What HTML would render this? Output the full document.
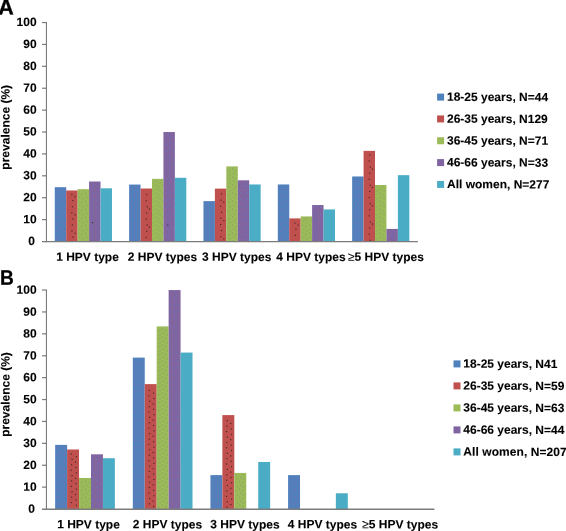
<!DOCTYPE html>
<html><head><meta charset="utf-8"><title>HPV type prevalence</title>
<style>
html,body{margin:0;padding:0;background:#fff;}
body{width:566px;height:531px;overflow:hidden;font-family:"Liberation Sans",sans-serif;}
svg{display:block;}
text{fill:#000;stroke:#000;stroke-width:0.1px;}
</style></head><body>
<svg width="566" height="531" viewBox="0 0 566 531" style="will-change:transform">
<defs>
<pattern id="pB" width="7" height="7" patternUnits="userSpaceOnUse"><g fill="#a05c9c" fill-opacity="0.5"><rect x="0.7" y="0.3" width="1.1" height="1.1"/><rect x="4.2" y="1.6" width="1.1" height="1.1"/><rect x="2.1" y="3.4" width="1.1" height="1.1"/><rect x="5.6" y="4.4" width="1.1" height="1.1"/><rect x="0.9" y="5.8" width="1.1" height="1.1"/><rect x="3.6" y="6.2" width="1.1" height="1.1"/></g></pattern>
<pattern id="pG" width="7" height="8" patternUnits="userSpaceOnUse"><g fill="#7d8577" fill-opacity="0.65"><rect x="1.0" y="0.6" width="1.1" height="1.1"/><rect x="4.4" y="2.2" width="1.1" height="1.1"/><rect x="2.2" y="4.6" width="1.1" height="1.1"/><rect x="5.5" y="6.3" width="1.1" height="1.1"/></g></pattern>
<pattern id="pP" width="7" height="7" patternUnits="userSpaceOnUse"><g fill-opacity="0.55"><rect x="0.6" y="0.5" width="1.1" height="1.1" fill="#5b88c4"/><rect x="3.8" y="1.2" width="1.1" height="1.1" fill="#95706a"/><rect x="1.9" y="3.0" width="1.1" height="1.1" fill="#5b88c4"/><rect x="5.2" y="3.9" width="1.1" height="1.1" fill="#5b88c4"/><rect x="3.0" y="5.6" width="1.1" height="1.1" fill="#95706a"/></g></pattern>
</defs>
<rect x="0" y="0" width="566" height="531" fill="#ffffff"/>
<text transform="translate(-1.65,14.50) skewY(0.25)" font-size="21.5" style="stroke-width:0.35px" font-family="Liberation Sans, sans-serif" font-weight="bold">A</text>
<text transform="translate(0.00,284.80) skewY(0.25) scale(0.91,1)" font-size="21" style="stroke-width:0.25px" font-family="Liberation Sans, sans-serif" font-weight="bold">B</text>
<rect x="54.78" y="187.20" width="11.44" height="54.30" fill="#4f81bd"/>
<rect x="55.58" y="188.40" width="9.84" height="52.70" fill="url(#pB)"/>
<rect x="66.21" y="190.48" width="11.44" height="51.02" fill="#c0504d"/>
<rect x="71.34" y="193.93" width="1.1" height="1.1" fill="#1e1e1e" fill-opacity="0.85"/>
<rect x="74.59" y="196.08" width="1.1" height="1.1" fill="#1e1e1e" fill-opacity="0.85"/>
<rect x="72.34" y="200.03" width="1.1" height="1.1" fill="#1e1e1e" fill-opacity="0.85"/>
<rect x="71.84" y="206.13" width="1.1" height="1.1" fill="#1e1e1e" fill-opacity="0.85"/>
<rect x="71.34" y="212.23" width="1.1" height="1.1" fill="#1e1e1e" fill-opacity="0.85"/>
<rect x="74.59" y="214.38" width="1.1" height="1.1" fill="#1e1e1e" fill-opacity="0.85"/>
<rect x="72.34" y="218.33" width="1.1" height="1.1" fill="#1e1e1e" fill-opacity="0.85"/>
<rect x="71.84" y="224.43" width="1.1" height="1.1" fill="#1e1e1e" fill-opacity="0.85"/>
<rect x="71.34" y="230.53" width="1.1" height="1.1" fill="#1e1e1e" fill-opacity="0.85"/>
<rect x="74.59" y="232.68" width="1.1" height="1.1" fill="#1e1e1e" fill-opacity="0.85"/>
<rect x="72.34" y="236.63" width="1.1" height="1.1" fill="#1e1e1e" fill-opacity="0.85"/>
<rect x="77.65" y="189.17" width="11.44" height="52.33" fill="#9bbb59"/>
<rect x="78.45" y="190.37" width="9.84" height="50.73" fill="url(#pG)"/>
<rect x="89.09" y="181.51" width="11.44" height="59.99" fill="#8064a2"/>
<rect x="89.89" y="182.71" width="9.84" height="58.39" fill="url(#pP)"/>
<rect x="100.53" y="188.30" width="11.44" height="53.20" fill="#4bacc6"/>
<rect x="129.12" y="184.57" width="11.44" height="56.93" fill="#4f81bd"/>
<rect x="129.92" y="185.77" width="9.84" height="55.33" fill="url(#pB)"/>
<rect x="140.55" y="188.51" width="11.44" height="52.99" fill="#c0504d"/>
<rect x="146.18" y="194.06" width="1.1" height="1.1" fill="#1e1e1e" fill-opacity="0.85"/>
<rect x="145.68" y="200.16" width="1.1" height="1.1" fill="#1e1e1e" fill-opacity="0.85"/>
<rect x="146.68" y="206.26" width="1.1" height="1.1" fill="#1e1e1e" fill-opacity="0.85"/>
<rect x="148.93" y="208.41" width="1.1" height="1.1" fill="#1e1e1e" fill-opacity="0.85"/>
<rect x="146.18" y="212.36" width="1.1" height="1.1" fill="#1e1e1e" fill-opacity="0.85"/>
<rect x="145.68" y="218.46" width="1.1" height="1.1" fill="#1e1e1e" fill-opacity="0.85"/>
<rect x="146.68" y="224.56" width="1.1" height="1.1" fill="#1e1e1e" fill-opacity="0.85"/>
<rect x="148.93" y="226.71" width="1.1" height="1.1" fill="#1e1e1e" fill-opacity="0.85"/>
<rect x="146.18" y="230.66" width="1.1" height="1.1" fill="#1e1e1e" fill-opacity="0.85"/>
<rect x="145.68" y="236.76" width="1.1" height="1.1" fill="#1e1e1e" fill-opacity="0.85"/>
<rect x="151.99" y="178.88" width="11.44" height="62.62" fill="#9bbb59"/>
<rect x="152.79" y="180.08" width="9.84" height="61.02" fill="url(#pG)"/>
<rect x="163.43" y="132.03" width="11.44" height="109.47" fill="#8064a2"/>
<rect x="164.23" y="133.22" width="9.84" height="107.88" fill="url(#pP)"/>
<rect x="174.87" y="177.79" width="11.44" height="63.71" fill="#4bacc6"/>
<rect x="203.46" y="201.10" width="11.44" height="40.40" fill="#4f81bd"/>
<rect x="204.26" y="202.30" width="9.84" height="38.80" fill="url(#pB)"/>
<rect x="214.89" y="188.62" width="11.44" height="52.88" fill="#c0504d"/>
<rect x="221.02" y="193.47" width="1.1" height="1.1" fill="#1e1e1e" fill-opacity="0.85"/>
<rect x="220.52" y="199.57" width="1.1" height="1.1" fill="#1e1e1e" fill-opacity="0.85"/>
<rect x="223.27" y="201.72" width="1.1" height="1.1" fill="#1e1e1e" fill-opacity="0.85"/>
<rect x="220.02" y="205.67" width="1.1" height="1.1" fill="#1e1e1e" fill-opacity="0.85"/>
<rect x="221.02" y="211.77" width="1.1" height="1.1" fill="#1e1e1e" fill-opacity="0.85"/>
<rect x="220.52" y="217.87" width="1.1" height="1.1" fill="#1e1e1e" fill-opacity="0.85"/>
<rect x="223.27" y="220.02" width="1.1" height="1.1" fill="#1e1e1e" fill-opacity="0.85"/>
<rect x="220.02" y="223.97" width="1.1" height="1.1" fill="#1e1e1e" fill-opacity="0.85"/>
<rect x="221.02" y="230.07" width="1.1" height="1.1" fill="#1e1e1e" fill-opacity="0.85"/>
<rect x="220.52" y="236.17" width="1.1" height="1.1" fill="#1e1e1e" fill-opacity="0.85"/>
<rect x="223.27" y="238.32" width="1.1" height="1.1" fill="#1e1e1e" fill-opacity="0.85"/>
<rect x="226.33" y="166.40" width="11.44" height="75.10" fill="#9bbb59"/>
<rect x="227.13" y="167.60" width="9.84" height="73.50" fill="url(#pG)"/>
<rect x="237.77" y="180.30" width="11.44" height="61.20" fill="#8064a2"/>
<rect x="238.57" y="181.50" width="9.84" height="59.60" fill="url(#pP)"/>
<rect x="249.21" y="184.46" width="11.44" height="57.04" fill="#4bacc6"/>
<rect x="277.80" y="184.46" width="11.44" height="57.04" fill="#4f81bd"/>
<rect x="278.60" y="185.66" width="9.84" height="55.44" fill="url(#pB)"/>
<rect x="289.23" y="218.40" width="11.44" height="23.10" fill="#c0504d"/>
<rect x="294.36" y="222.55" width="1.1" height="1.1" fill="#1e1e1e" fill-opacity="0.85"/>
<rect x="297.61" y="224.70" width="1.1" height="1.1" fill="#1e1e1e" fill-opacity="0.85"/>
<rect x="295.36" y="228.65" width="1.1" height="1.1" fill="#1e1e1e" fill-opacity="0.85"/>
<rect x="294.86" y="234.75" width="1.1" height="1.1" fill="#1e1e1e" fill-opacity="0.85"/>
<rect x="300.67" y="216.43" width="11.44" height="25.07" fill="#9bbb59"/>
<rect x="301.47" y="217.63" width="9.84" height="23.47" fill="url(#pG)"/>
<rect x="312.11" y="205.04" width="11.44" height="36.46" fill="#8064a2"/>
<rect x="312.91" y="206.24" width="9.84" height="34.86" fill="url(#pP)"/>
<rect x="323.55" y="209.42" width="11.44" height="32.08" fill="#4bacc6"/>
<rect x="352.14" y="176.47" width="11.44" height="65.03" fill="#4f81bd"/>
<rect x="352.94" y="177.67" width="9.84" height="63.43" fill="url(#pB)"/>
<rect x="363.57" y="150.85" width="11.44" height="90.65" fill="#c0504d"/>
<rect x="369.20" y="154.30" width="1.1" height="1.1" fill="#1e1e1e" fill-opacity="0.85"/>
<rect x="368.70" y="160.40" width="1.1" height="1.1" fill="#1e1e1e" fill-opacity="0.85"/>
<rect x="369.70" y="166.50" width="1.1" height="1.1" fill="#1e1e1e" fill-opacity="0.85"/>
<rect x="371.95" y="168.65" width="1.1" height="1.1" fill="#1e1e1e" fill-opacity="0.85"/>
<rect x="369.20" y="172.60" width="1.1" height="1.1" fill="#1e1e1e" fill-opacity="0.85"/>
<rect x="368.70" y="178.70" width="1.1" height="1.1" fill="#1e1e1e" fill-opacity="0.85"/>
<rect x="369.70" y="184.80" width="1.1" height="1.1" fill="#1e1e1e" fill-opacity="0.85"/>
<rect x="371.95" y="186.95" width="1.1" height="1.1" fill="#1e1e1e" fill-opacity="0.85"/>
<rect x="369.20" y="190.90" width="1.1" height="1.1" fill="#1e1e1e" fill-opacity="0.85"/>
<rect x="368.70" y="197.00" width="1.1" height="1.1" fill="#1e1e1e" fill-opacity="0.85"/>
<rect x="369.70" y="203.10" width="1.1" height="1.1" fill="#1e1e1e" fill-opacity="0.85"/>
<rect x="371.95" y="205.25" width="1.1" height="1.1" fill="#1e1e1e" fill-opacity="0.85"/>
<rect x="369.20" y="209.20" width="1.1" height="1.1" fill="#1e1e1e" fill-opacity="0.85"/>
<rect x="368.70" y="215.30" width="1.1" height="1.1" fill="#1e1e1e" fill-opacity="0.85"/>
<rect x="369.70" y="221.40" width="1.1" height="1.1" fill="#1e1e1e" fill-opacity="0.85"/>
<rect x="371.95" y="223.55" width="1.1" height="1.1" fill="#1e1e1e" fill-opacity="0.85"/>
<rect x="369.20" y="227.50" width="1.1" height="1.1" fill="#1e1e1e" fill-opacity="0.85"/>
<rect x="368.70" y="233.60" width="1.1" height="1.1" fill="#1e1e1e" fill-opacity="0.85"/>
<rect x="369.70" y="239.70" width="1.1" height="1.1" fill="#1e1e1e" fill-opacity="0.85"/>
<rect x="375.01" y="185.01" width="11.44" height="56.49" fill="#9bbb59"/>
<rect x="375.81" y="186.21" width="9.84" height="54.89" fill="url(#pG)"/>
<rect x="386.45" y="228.91" width="11.44" height="12.59" fill="#8064a2"/>
<rect x="387.25" y="230.11" width="9.84" height="10.99" fill="url(#pP)"/>
<rect x="397.89" y="175.16" width="11.44" height="66.34" fill="#4bacc6"/>
<line x1="46.45" y1="21.95" x2="46.45" y2="242.3" stroke="#7c7c7c" stroke-width="1.15"/>
<line x1="42.0" y1="241.65" x2="417.9" y2="241.65" stroke="#7c7c7c" stroke-width="1.4"/>
<text transform="translate(35.00,245.10) skewY(0.25)" font-size="12" text-anchor="end" font-family="Liberation Sans, sans-serif" font-weight="bold">0</text>
<line x1="42.0" y1="219.60" x2="46.2" y2="219.60" stroke="#7c7c7c" stroke-width="1.2"/>
<text transform="translate(36.60,223.20) skewY(0.25)" font-size="12" text-anchor="end" font-family="Liberation Sans, sans-serif" font-weight="bold">10</text>
<line x1="42.0" y1="197.71" x2="46.2" y2="197.71" stroke="#7c7c7c" stroke-width="1.2"/>
<text transform="translate(36.60,201.31) skewY(0.25)" font-size="12" text-anchor="end" font-family="Liberation Sans, sans-serif" font-weight="bold">20</text>
<line x1="42.0" y1="175.81" x2="46.2" y2="175.81" stroke="#7c7c7c" stroke-width="1.2"/>
<text transform="translate(36.60,179.41) skewY(0.25)" font-size="12" text-anchor="end" font-family="Liberation Sans, sans-serif" font-weight="bold">30</text>
<line x1="42.0" y1="153.92" x2="46.2" y2="153.92" stroke="#7c7c7c" stroke-width="1.2"/>
<text transform="translate(36.60,157.52) skewY(0.25)" font-size="12" text-anchor="end" font-family="Liberation Sans, sans-serif" font-weight="bold">40</text>
<line x1="42.0" y1="132.03" x2="46.2" y2="132.03" stroke="#7c7c7c" stroke-width="1.2"/>
<text transform="translate(36.60,135.62) skewY(0.25)" font-size="12" text-anchor="end" font-family="Liberation Sans, sans-serif" font-weight="bold">50</text>
<line x1="42.0" y1="110.13" x2="46.2" y2="110.13" stroke="#7c7c7c" stroke-width="1.2"/>
<text transform="translate(36.60,113.73) skewY(0.25)" font-size="12" text-anchor="end" font-family="Liberation Sans, sans-serif" font-weight="bold">60</text>
<line x1="42.0" y1="88.24" x2="46.2" y2="88.24" stroke="#7c7c7c" stroke-width="1.2"/>
<text transform="translate(36.60,91.84) skewY(0.25)" font-size="12" text-anchor="end" font-family="Liberation Sans, sans-serif" font-weight="bold">70</text>
<line x1="42.0" y1="66.34" x2="46.2" y2="66.34" stroke="#7c7c7c" stroke-width="1.2"/>
<text transform="translate(36.60,69.94) skewY(0.25)" font-size="12" text-anchor="end" font-family="Liberation Sans, sans-serif" font-weight="bold">80</text>
<line x1="42.0" y1="44.44" x2="46.2" y2="44.44" stroke="#7c7c7c" stroke-width="1.2"/>
<text transform="translate(36.60,48.04) skewY(0.25)" font-size="12" text-anchor="end" font-family="Liberation Sans, sans-serif" font-weight="bold">90</text>
<line x1="42.0" y1="22.55" x2="46.2" y2="22.55" stroke="#7c7c7c" stroke-width="1.2"/>
<text transform="translate(36.60,26.15) skewY(0.25)" font-size="12" text-anchor="end" font-family="Liberation Sans, sans-serif" font-weight="bold">100</text>
<text transform="translate(9.5,127.3) rotate(-90) skewY(0.25)" font-size="12" text-anchor="middle" font-family="Liberation Sans, sans-serif" font-weight="bold">prevalence (%)</text>
<text transform="translate(87.50,260.95) skewY(0.25)" font-size="12" text-anchor="middle" font-family="Liberation Sans, sans-serif" font-weight="bold">1 HPV type</text>
<text transform="translate(162.50,260.95) skewY(0.25)" font-size="12" text-anchor="middle" font-family="Liberation Sans, sans-serif" font-weight="bold">2 HPV types</text>
<text transform="translate(236.70,260.95) skewY(0.25)" font-size="12" text-anchor="middle" font-family="Liberation Sans, sans-serif" font-weight="bold">3 HPV types</text>
<text transform="translate(310.90,260.95) skewY(0.25)" font-size="12" text-anchor="middle" font-family="Liberation Sans, sans-serif" font-weight="bold">4 HPV types</text>
<text transform="translate(385.90,260.95) skewY(0.25)" font-size="12" text-anchor="middle" font-family="Liberation Sans, sans-serif" font-weight="bold"><tspan font-weight="normal">&#8805;</tspan>5 HPV types</text>
<rect x="437.1" y="93.60" width="7" height="7" fill="#4f81bd"/>
<text transform="translate(447.00,100.80) skewY(0.25)" font-size="12" font-family="Liberation Sans, sans-serif" font-weight="bold">18-25 years, N=44</text>
<rect x="437.1" y="115.43" width="7" height="7" fill="#c0504d"/>
<text transform="translate(447.00,122.63) skewY(0.25)" font-size="12" font-family="Liberation Sans, sans-serif" font-weight="bold">26-35 years, N129</text>
<rect x="437.1" y="137.26" width="7" height="7" fill="#9bbb59"/>
<text transform="translate(447.00,144.46) skewY(0.25)" font-size="12" font-family="Liberation Sans, sans-serif" font-weight="bold">36-45 years, N=71</text>
<rect x="437.1" y="159.09" width="7" height="7" fill="#8064a2"/>
<text transform="translate(447.00,166.29) skewY(0.25)" font-size="12" font-family="Liberation Sans, sans-serif" font-weight="bold">46-66 years, N=33</text>
<rect x="437.1" y="180.92" width="7" height="7" fill="#4bacc6"/>
<text transform="translate(447.00,188.12) skewY(0.25)" font-size="12" font-family="Liberation Sans, sans-serif" font-weight="bold">All women, N=277</text>
<rect x="55.16" y="444.88" width="11.94" height="64.17" fill="#4f81bd"/>
<rect x="55.96" y="446.08" width="10.34" height="62.57" fill="url(#pB)"/>
<rect x="67.10" y="449.48" width="11.94" height="59.57" fill="#c0504d"/>
<rect x="70.69" y="453.43" width="1.1" height="1.1" fill="#1e1e1e" fill-opacity="0.85"/>
<rect x="75.79" y="456.13" width="1.1" height="1.1" fill="#1e1e1e" fill-opacity="0.85"/>
<rect x="71.49" y="458.83" width="1.1" height="1.1" fill="#1e1e1e" fill-opacity="0.85"/>
<rect x="74.99" y="461.53" width="1.1" height="1.1" fill="#1e1e1e" fill-opacity="0.85"/>
<rect x="71.09" y="464.23" width="1.1" height="1.1" fill="#1e1e1e" fill-opacity="0.85"/>
<rect x="75.39" y="466.93" width="1.1" height="1.1" fill="#1e1e1e" fill-opacity="0.85"/>
<rect x="70.69" y="469.63" width="1.1" height="1.1" fill="#1e1e1e" fill-opacity="0.85"/>
<rect x="75.79" y="472.33" width="1.1" height="1.1" fill="#1e1e1e" fill-opacity="0.85"/>
<rect x="71.49" y="475.03" width="1.1" height="1.1" fill="#1e1e1e" fill-opacity="0.85"/>
<rect x="74.99" y="477.73" width="1.1" height="1.1" fill="#1e1e1e" fill-opacity="0.85"/>
<rect x="71.09" y="480.43" width="1.1" height="1.1" fill="#1e1e1e" fill-opacity="0.85"/>
<rect x="75.39" y="483.13" width="1.1" height="1.1" fill="#1e1e1e" fill-opacity="0.85"/>
<rect x="70.69" y="485.83" width="1.1" height="1.1" fill="#1e1e1e" fill-opacity="0.85"/>
<rect x="75.79" y="488.53" width="1.1" height="1.1" fill="#1e1e1e" fill-opacity="0.85"/>
<rect x="71.49" y="491.23" width="1.1" height="1.1" fill="#1e1e1e" fill-opacity="0.85"/>
<rect x="74.99" y="493.93" width="1.1" height="1.1" fill="#1e1e1e" fill-opacity="0.85"/>
<rect x="71.09" y="496.63" width="1.1" height="1.1" fill="#1e1e1e" fill-opacity="0.85"/>
<rect x="75.39" y="499.33" width="1.1" height="1.1" fill="#1e1e1e" fill-opacity="0.85"/>
<rect x="70.69" y="502.03" width="1.1" height="1.1" fill="#1e1e1e" fill-opacity="0.85"/>
<rect x="75.79" y="504.73" width="1.1" height="1.1" fill="#1e1e1e" fill-opacity="0.85"/>
<rect x="79.05" y="477.95" width="11.94" height="31.10" fill="#9bbb59"/>
<rect x="79.85" y="479.15" width="10.34" height="29.50" fill="url(#pG)"/>
<rect x="90.99" y="454.30" width="11.94" height="54.75" fill="#8064a2"/>
<rect x="91.79" y="455.50" width="10.34" height="53.15" fill="url(#pP)"/>
<rect x="102.94" y="458.24" width="11.94" height="50.81" fill="#4bacc6"/>
<rect x="132.80" y="357.61" width="11.94" height="151.44" fill="#4f81bd"/>
<rect x="133.60" y="358.81" width="10.34" height="149.84" fill="url(#pB)"/>
<rect x="144.74" y="384.11" width="11.94" height="124.94" fill="#c0504d"/>
<rect x="148.73" y="389.86" width="1.1" height="1.1" fill="#1e1e1e" fill-opacity="0.85"/>
<rect x="153.03" y="392.56" width="1.1" height="1.1" fill="#1e1e1e" fill-opacity="0.85"/>
<rect x="148.33" y="395.26" width="1.1" height="1.1" fill="#1e1e1e" fill-opacity="0.85"/>
<rect x="153.43" y="397.96" width="1.1" height="1.1" fill="#1e1e1e" fill-opacity="0.85"/>
<rect x="149.13" y="400.66" width="1.1" height="1.1" fill="#1e1e1e" fill-opacity="0.85"/>
<rect x="152.63" y="403.36" width="1.1" height="1.1" fill="#1e1e1e" fill-opacity="0.85"/>
<rect x="148.73" y="406.06" width="1.1" height="1.1" fill="#1e1e1e" fill-opacity="0.85"/>
<rect x="153.03" y="408.76" width="1.1" height="1.1" fill="#1e1e1e" fill-opacity="0.85"/>
<rect x="148.33" y="411.46" width="1.1" height="1.1" fill="#1e1e1e" fill-opacity="0.85"/>
<rect x="153.43" y="414.16" width="1.1" height="1.1" fill="#1e1e1e" fill-opacity="0.85"/>
<rect x="149.13" y="416.86" width="1.1" height="1.1" fill="#1e1e1e" fill-opacity="0.85"/>
<rect x="152.63" y="419.56" width="1.1" height="1.1" fill="#1e1e1e" fill-opacity="0.85"/>
<rect x="148.73" y="422.26" width="1.1" height="1.1" fill="#1e1e1e" fill-opacity="0.85"/>
<rect x="153.03" y="424.96" width="1.1" height="1.1" fill="#1e1e1e" fill-opacity="0.85"/>
<rect x="148.33" y="427.66" width="1.1" height="1.1" fill="#1e1e1e" fill-opacity="0.85"/>
<rect x="153.43" y="430.36" width="1.1" height="1.1" fill="#1e1e1e" fill-opacity="0.85"/>
<rect x="149.13" y="433.06" width="1.1" height="1.1" fill="#1e1e1e" fill-opacity="0.85"/>
<rect x="152.63" y="435.76" width="1.1" height="1.1" fill="#1e1e1e" fill-opacity="0.85"/>
<rect x="148.73" y="438.46" width="1.1" height="1.1" fill="#1e1e1e" fill-opacity="0.85"/>
<rect x="153.03" y="441.16" width="1.1" height="1.1" fill="#1e1e1e" fill-opacity="0.85"/>
<rect x="148.33" y="443.86" width="1.1" height="1.1" fill="#1e1e1e" fill-opacity="0.85"/>
<rect x="153.43" y="446.56" width="1.1" height="1.1" fill="#1e1e1e" fill-opacity="0.85"/>
<rect x="149.13" y="449.26" width="1.1" height="1.1" fill="#1e1e1e" fill-opacity="0.85"/>
<rect x="152.63" y="451.96" width="1.1" height="1.1" fill="#1e1e1e" fill-opacity="0.85"/>
<rect x="148.73" y="454.66" width="1.1" height="1.1" fill="#1e1e1e" fill-opacity="0.85"/>
<rect x="153.03" y="457.36" width="1.1" height="1.1" fill="#1e1e1e" fill-opacity="0.85"/>
<rect x="148.33" y="460.06" width="1.1" height="1.1" fill="#1e1e1e" fill-opacity="0.85"/>
<rect x="153.43" y="462.76" width="1.1" height="1.1" fill="#1e1e1e" fill-opacity="0.85"/>
<rect x="149.13" y="465.46" width="1.1" height="1.1" fill="#1e1e1e" fill-opacity="0.85"/>
<rect x="152.63" y="468.16" width="1.1" height="1.1" fill="#1e1e1e" fill-opacity="0.85"/>
<rect x="148.73" y="470.86" width="1.1" height="1.1" fill="#1e1e1e" fill-opacity="0.85"/>
<rect x="153.03" y="473.56" width="1.1" height="1.1" fill="#1e1e1e" fill-opacity="0.85"/>
<rect x="148.33" y="476.26" width="1.1" height="1.1" fill="#1e1e1e" fill-opacity="0.85"/>
<rect x="153.43" y="478.96" width="1.1" height="1.1" fill="#1e1e1e" fill-opacity="0.85"/>
<rect x="149.13" y="481.66" width="1.1" height="1.1" fill="#1e1e1e" fill-opacity="0.85"/>
<rect x="152.63" y="484.36" width="1.1" height="1.1" fill="#1e1e1e" fill-opacity="0.85"/>
<rect x="148.73" y="487.06" width="1.1" height="1.1" fill="#1e1e1e" fill-opacity="0.85"/>
<rect x="153.03" y="489.76" width="1.1" height="1.1" fill="#1e1e1e" fill-opacity="0.85"/>
<rect x="148.33" y="492.46" width="1.1" height="1.1" fill="#1e1e1e" fill-opacity="0.85"/>
<rect x="153.43" y="495.16" width="1.1" height="1.1" fill="#1e1e1e" fill-opacity="0.85"/>
<rect x="149.13" y="497.86" width="1.1" height="1.1" fill="#1e1e1e" fill-opacity="0.85"/>
<rect x="152.63" y="500.56" width="1.1" height="1.1" fill="#1e1e1e" fill-opacity="0.85"/>
<rect x="148.73" y="503.26" width="1.1" height="1.1" fill="#1e1e1e" fill-opacity="0.85"/>
<rect x="153.03" y="505.96" width="1.1" height="1.1" fill="#1e1e1e" fill-opacity="0.85"/>
<rect x="156.69" y="326.40" width="11.94" height="182.65" fill="#9bbb59"/>
<rect x="157.49" y="327.60" width="10.34" height="181.05" fill="url(#pG)"/>
<rect x="168.63" y="290.05" width="11.94" height="219.00" fill="#8064a2"/>
<rect x="169.43" y="291.25" width="10.34" height="217.40" fill="url(#pP)"/>
<rect x="180.58" y="352.57" width="11.94" height="156.48" fill="#4bacc6"/>
<rect x="210.44" y="475.11" width="11.94" height="33.95" fill="#4f81bd"/>
<rect x="211.24" y="476.31" width="10.34" height="32.34" fill="url(#pB)"/>
<rect x="222.38" y="415.10" width="11.94" height="93.95" fill="#c0504d"/>
<rect x="226.77" y="420.25" width="1.1" height="1.1" fill="#1e1e1e" fill-opacity="0.85"/>
<rect x="230.27" y="422.95" width="1.1" height="1.1" fill="#1e1e1e" fill-opacity="0.85"/>
<rect x="226.37" y="425.65" width="1.1" height="1.1" fill="#1e1e1e" fill-opacity="0.85"/>
<rect x="230.67" y="428.35" width="1.1" height="1.1" fill="#1e1e1e" fill-opacity="0.85"/>
<rect x="225.97" y="431.05" width="1.1" height="1.1" fill="#1e1e1e" fill-opacity="0.85"/>
<rect x="231.07" y="433.75" width="1.1" height="1.1" fill="#1e1e1e" fill-opacity="0.85"/>
<rect x="226.77" y="436.45" width="1.1" height="1.1" fill="#1e1e1e" fill-opacity="0.85"/>
<rect x="230.27" y="439.15" width="1.1" height="1.1" fill="#1e1e1e" fill-opacity="0.85"/>
<rect x="226.37" y="441.85" width="1.1" height="1.1" fill="#1e1e1e" fill-opacity="0.85"/>
<rect x="230.67" y="444.55" width="1.1" height="1.1" fill="#1e1e1e" fill-opacity="0.85"/>
<rect x="225.97" y="447.25" width="1.1" height="1.1" fill="#1e1e1e" fill-opacity="0.85"/>
<rect x="231.07" y="449.95" width="1.1" height="1.1" fill="#1e1e1e" fill-opacity="0.85"/>
<rect x="226.77" y="452.65" width="1.1" height="1.1" fill="#1e1e1e" fill-opacity="0.85"/>
<rect x="230.27" y="455.35" width="1.1" height="1.1" fill="#1e1e1e" fill-opacity="0.85"/>
<rect x="226.37" y="458.05" width="1.1" height="1.1" fill="#1e1e1e" fill-opacity="0.85"/>
<rect x="230.67" y="460.75" width="1.1" height="1.1" fill="#1e1e1e" fill-opacity="0.85"/>
<rect x="225.97" y="463.45" width="1.1" height="1.1" fill="#1e1e1e" fill-opacity="0.85"/>
<rect x="231.07" y="466.15" width="1.1" height="1.1" fill="#1e1e1e" fill-opacity="0.85"/>
<rect x="226.77" y="468.85" width="1.1" height="1.1" fill="#1e1e1e" fill-opacity="0.85"/>
<rect x="230.27" y="471.55" width="1.1" height="1.1" fill="#1e1e1e" fill-opacity="0.85"/>
<rect x="226.37" y="474.25" width="1.1" height="1.1" fill="#1e1e1e" fill-opacity="0.85"/>
<rect x="230.67" y="476.95" width="1.1" height="1.1" fill="#1e1e1e" fill-opacity="0.85"/>
<rect x="225.97" y="479.65" width="1.1" height="1.1" fill="#1e1e1e" fill-opacity="0.85"/>
<rect x="231.07" y="482.35" width="1.1" height="1.1" fill="#1e1e1e" fill-opacity="0.85"/>
<rect x="226.77" y="485.05" width="1.1" height="1.1" fill="#1e1e1e" fill-opacity="0.85"/>
<rect x="230.27" y="487.75" width="1.1" height="1.1" fill="#1e1e1e" fill-opacity="0.85"/>
<rect x="226.37" y="490.45" width="1.1" height="1.1" fill="#1e1e1e" fill-opacity="0.85"/>
<rect x="230.67" y="493.15" width="1.1" height="1.1" fill="#1e1e1e" fill-opacity="0.85"/>
<rect x="225.97" y="495.85" width="1.1" height="1.1" fill="#1e1e1e" fill-opacity="0.85"/>
<rect x="231.07" y="498.55" width="1.1" height="1.1" fill="#1e1e1e" fill-opacity="0.85"/>
<rect x="226.77" y="501.25" width="1.1" height="1.1" fill="#1e1e1e" fill-opacity="0.85"/>
<rect x="230.27" y="503.95" width="1.1" height="1.1" fill="#1e1e1e" fill-opacity="0.85"/>
<rect x="226.37" y="506.65" width="1.1" height="1.1" fill="#1e1e1e" fill-opacity="0.85"/>
<rect x="234.33" y="472.92" width="11.94" height="36.13" fill="#9bbb59"/>
<rect x="235.13" y="474.12" width="10.34" height="34.53" fill="url(#pG)"/>
<rect x="258.22" y="461.97" width="11.94" height="47.08" fill="#4bacc6"/>
<rect x="288.08" y="475.11" width="11.94" height="33.95" fill="#4f81bd"/>
<rect x="288.88" y="476.31" width="10.34" height="32.34" fill="url(#pB)"/>
<rect x="335.86" y="493.28" width="11.94" height="15.77" fill="#4bacc6"/>
<line x1="46.45" y1="289.45" x2="46.45" y2="509.85" stroke="#7c7c7c" stroke-width="1.15"/>
<line x1="42.0" y1="509.2" x2="434.4" y2="509.2" stroke="#7c7c7c" stroke-width="1.4"/>
<text transform="translate(35.00,512.80) skewY(0.25)" font-size="12" text-anchor="end" font-family="Liberation Sans, sans-serif" font-weight="bold">0</text>
<line x1="42.0" y1="487.15" x2="46.2" y2="487.15" stroke="#7c7c7c" stroke-width="1.2"/>
<text transform="translate(36.60,490.90) skewY(0.25)" font-size="12" text-anchor="end" font-family="Liberation Sans, sans-serif" font-weight="bold">10</text>
<line x1="42.0" y1="465.25" x2="46.2" y2="465.25" stroke="#7c7c7c" stroke-width="1.2"/>
<text transform="translate(36.60,469.00) skewY(0.25)" font-size="12" text-anchor="end" font-family="Liberation Sans, sans-serif" font-weight="bold">20</text>
<line x1="42.0" y1="443.35" x2="46.2" y2="443.35" stroke="#7c7c7c" stroke-width="1.2"/>
<text transform="translate(36.60,447.10) skewY(0.25)" font-size="12" text-anchor="end" font-family="Liberation Sans, sans-serif" font-weight="bold">30</text>
<line x1="42.0" y1="421.45" x2="46.2" y2="421.45" stroke="#7c7c7c" stroke-width="1.2"/>
<text transform="translate(36.60,425.20) skewY(0.25)" font-size="12" text-anchor="end" font-family="Liberation Sans, sans-serif" font-weight="bold">40</text>
<line x1="42.0" y1="399.55" x2="46.2" y2="399.55" stroke="#7c7c7c" stroke-width="1.2"/>
<text transform="translate(36.60,403.30) skewY(0.25)" font-size="12" text-anchor="end" font-family="Liberation Sans, sans-serif" font-weight="bold">50</text>
<line x1="42.0" y1="377.65" x2="46.2" y2="377.65" stroke="#7c7c7c" stroke-width="1.2"/>
<text transform="translate(36.60,381.40) skewY(0.25)" font-size="12" text-anchor="end" font-family="Liberation Sans, sans-serif" font-weight="bold">60</text>
<line x1="42.0" y1="355.75" x2="46.2" y2="355.75" stroke="#7c7c7c" stroke-width="1.2"/>
<text transform="translate(36.60,359.50) skewY(0.25)" font-size="12" text-anchor="end" font-family="Liberation Sans, sans-serif" font-weight="bold">70</text>
<line x1="42.0" y1="333.85" x2="46.2" y2="333.85" stroke="#7c7c7c" stroke-width="1.2"/>
<text transform="translate(36.60,337.60) skewY(0.25)" font-size="12" text-anchor="end" font-family="Liberation Sans, sans-serif" font-weight="bold">80</text>
<line x1="42.0" y1="311.95" x2="46.2" y2="311.95" stroke="#7c7c7c" stroke-width="1.2"/>
<text transform="translate(36.60,315.70) skewY(0.25)" font-size="12" text-anchor="end" font-family="Liberation Sans, sans-serif" font-weight="bold">90</text>
<line x1="42.0" y1="290.05" x2="46.2" y2="290.05" stroke="#7c7c7c" stroke-width="1.2"/>
<text transform="translate(36.60,293.80) skewY(0.25)" font-size="12" text-anchor="end" font-family="Liberation Sans, sans-serif" font-weight="bold">100</text>
<text transform="translate(9.5,394.5) rotate(-90) skewY(0.25)" font-size="12" text-anchor="middle" font-family="Liberation Sans, sans-serif" font-weight="bold">prevalence (%)</text>
<text transform="translate(88.50,528.40) skewY(0.25)" font-size="12" text-anchor="middle" font-family="Liberation Sans, sans-serif" font-weight="bold">1 HPV type</text>
<text transform="translate(167.50,528.40) skewY(0.25)" font-size="12" text-anchor="middle" font-family="Liberation Sans, sans-serif" font-weight="bold">2 HPV types</text>
<text transform="translate(244.90,528.40) skewY(0.25)" font-size="12" text-anchor="middle" font-family="Liberation Sans, sans-serif" font-weight="bold">3 HPV types</text>
<text transform="translate(322.40,528.40) skewY(0.25)" font-size="12" text-anchor="middle" font-family="Liberation Sans, sans-serif" font-weight="bold">4 HPV types</text>
<text transform="translate(400.20,528.40) skewY(0.25)" font-size="12" text-anchor="middle" font-family="Liberation Sans, sans-serif" font-weight="bold"><tspan font-weight="normal">&#8805;</tspan>5 HPV types</text>
<rect x="453.5" y="360.40" width="7" height="7" fill="#4f81bd"/>
<text transform="translate(463.30,367.60) skewY(0.25)" font-size="12" font-family="Liberation Sans, sans-serif" font-weight="bold">18-25 years, N41</text>
<rect x="453.5" y="382.40" width="7" height="7" fill="#c0504d"/>
<text transform="translate(463.30,389.60) skewY(0.25)" font-size="12" font-family="Liberation Sans, sans-serif" font-weight="bold">26-35 years, N=59</text>
<rect x="453.5" y="404.40" width="7" height="7" fill="#9bbb59"/>
<text transform="translate(463.30,411.60) skewY(0.25)" font-size="12" font-family="Liberation Sans, sans-serif" font-weight="bold">36-45 years, N=63</text>
<rect x="453.5" y="426.40" width="7" height="7" fill="#8064a2"/>
<text transform="translate(463.30,433.60) skewY(0.25)" font-size="12" font-family="Liberation Sans, sans-serif" font-weight="bold">46-66 years, N=44</text>
<rect x="453.5" y="448.40" width="7" height="7" fill="#4bacc6"/>
<text transform="translate(463.30,455.60) skewY(0.25)" font-size="12" font-family="Liberation Sans, sans-serif" font-weight="bold"><tspan letter-spacing="0.07">All women, N=207</tspan></text>
<rect x="91.9" y="222" width="1.2" height="1.2" fill="#2a2a2a" fill-opacity="0.85"/><rect x="167.2" y="224.6" width="1.2" height="1.2" fill="#2a2a2a" fill-opacity="0.85"/>
</svg>
</body></html>
